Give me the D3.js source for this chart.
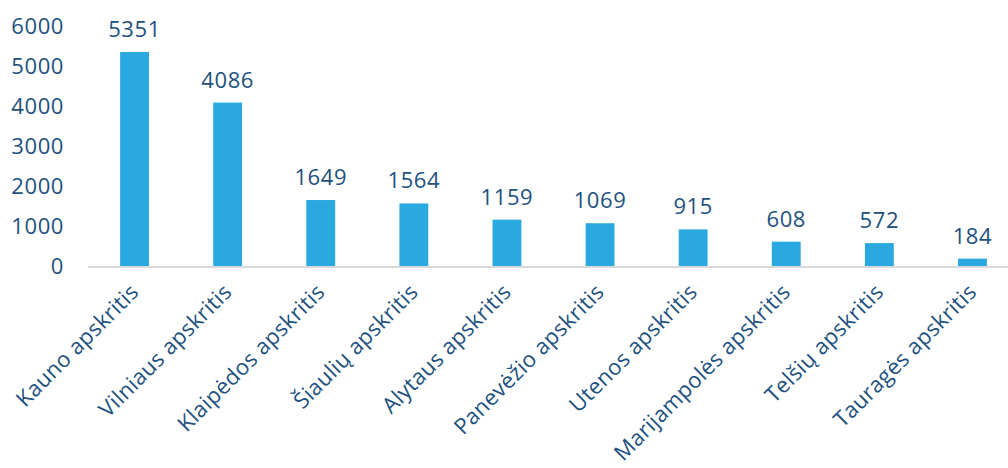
<!DOCTYPE html>
<html>
<head>
<meta charset="utf-8">
<script src="https://cdn.jsdelivr.net/npm/d3@7"></script>
<style>
  html, body { margin: 0; padding: 0; background: #fff; }
  svg { display: block; }
  text { font-family: "Open Sans", "Noto Sans", sans-serif; fill: #21517e; font-weight: 400; letter-spacing: 0.6px; }
  .cat { letter-spacing: 0.3px; }
</style>
</head>
<body>
<svg id="chart" width="1008" height="468"></svg>
<script>
const categories = ["Kauno apskritis", "Vilniaus apskritis", "Klaipėdos apskritis", "Šiaulių apskritis", "Alytaus apskritis", "Panevėžio apskritis", "Utenos apskritis", "Marijampolės apskritis", "Telšių apskritis", "Tauragės apskritis"];
const values = [5351, 4086, 1649, 1564, 1159, 1069, 915, 608, 572, 184];
const yTicks = [0, 1000, 2000, 3000, 4000, 5000, 6000];

const svg = d3.select("#chart");
const x = d3.scaleBand().domain(categories).range([88, 1019]).paddingInner(0.69).paddingOuter(0.345);
const y = d3.scaleLinear().domain([0, 6000]).range([266, 26]);

// y tick labels
svg.append("g").selectAll("text").data(yTicks).join("text")
  .attr("x", 64).attr("y", d => y(d)).attr("dy", "0.35em")
  .attr("text-anchor", "end").style("font-size", "22px")
  .text(d => d);

// bars
svg.append("g").selectAll("rect").data(values).join("rect")
  .attr("x", (d, i) => x(categories[i]))
  .attr("width", x.bandwidth())
  .attr("y", d => y(d))
  .attr("height", d => y(0) - y(d))
  .attr("fill", "#29a9e0");

// axis line
svg.append("line").attr("x1", 88).attr("x2", 1008).attr("y1", 267).attr("y2", 267)
  .attr("stroke", "#d9d9d9").attr("stroke-width", 2);

// value labels
svg.append("g").selectAll("text").data(values).join("text")
  .attr("x", (d, i) => x(categories[i]) + x.bandwidth() / 2)
  .attr("y", d => y(d) - 15)
  .attr("text-anchor", "middle").style("font-size", "22px")
  .text(d => d);

// category labels
svg.append("g").selectAll("text").data(categories).join("text")
  .attr("class", "cat")
  .attr("transform", d => `translate(${x(d) + x.bandwidth() / 2},288) rotate(-45)`)
  .attr("dy", "0.35em")
  .attr("text-anchor", "end").style("font-size", "22px")
  .text(d => d);
</script>
</body>
</html>
